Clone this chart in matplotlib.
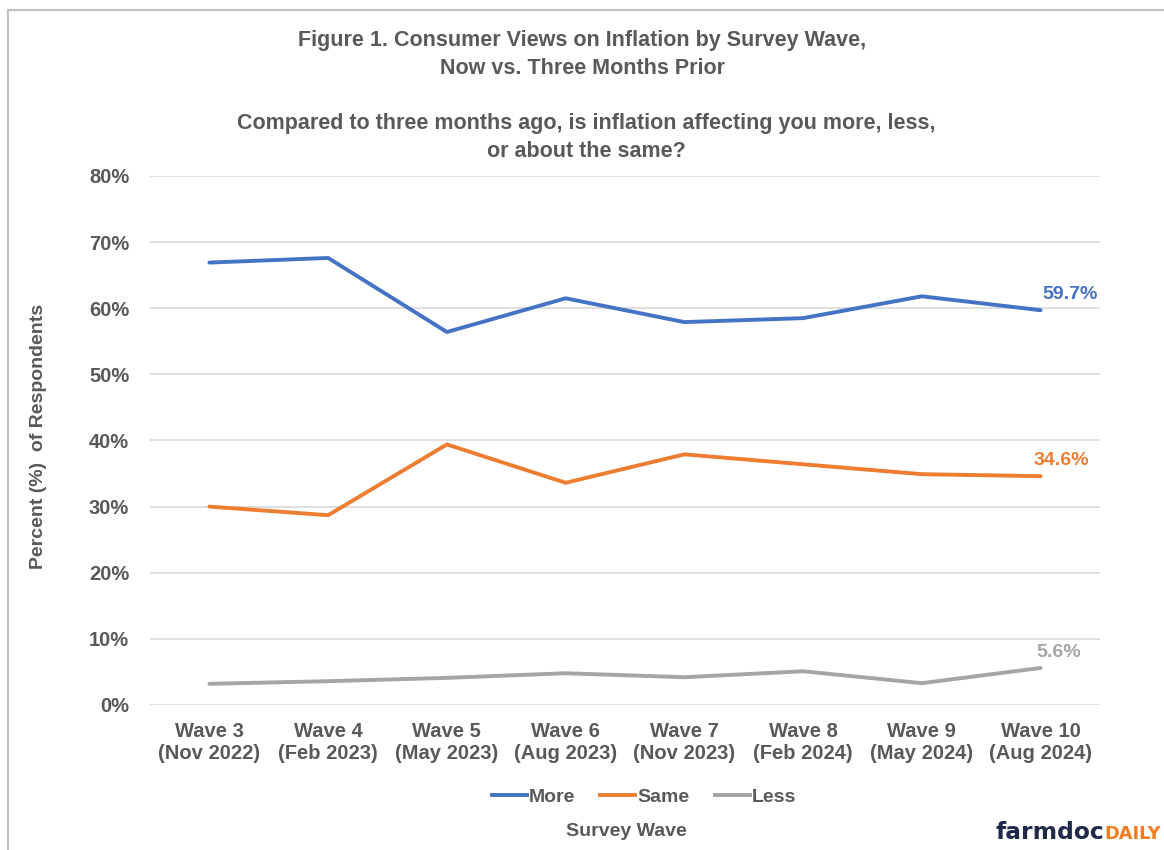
import numpy as np
import matplotlib.pyplot as plt
from matplotlib.lines import Line2D

plt.rcParams['font.family'] = ['Liberation Sans', 'DejaVu Sans']

# data
waves = ["Wave 3\n(Nov 2022)", "Wave 4\n(Feb 2023)", "Wave 5\n(May 2023)", "Wave 6\n(Aug 2023)",
         "Wave 7\n(Nov 2023)", "Wave 8\n(Feb 2024)", "Wave 9\n(May 2024)", "Wave 10\n(Aug 2024)"]
more = [66.9, 67.6, 56.4, 61.5, 57.9, 58.5, 61.8, 59.7]
same = [30.0, 28.7, 39.4, 33.6, 37.9, 36.4, 34.9, 34.6]
less = [3.2, 3.6, 4.1, 4.8, 4.2, 5.1, 3.3, 5.6]

blue = "#4472C4"
orange = "#ED7D31"
grey = "#A5A5A5"
txt = "#595959"

fig = plt.figure(figsize=(11.64, 8.5), dpi=100)
ax = fig.add_axes([0.1289, 0.1706, 0.8161, 0.6224])

x = np.arange(len(waves))
ax.plot(x, more, color=blue, lw=2.8, solid_capstyle="round")
ax.plot(x, same, color=orange, lw=2.8, solid_capstyle="round")
ax.plot(x, less, color=grey, lw=2.8, solid_capstyle="round")

# end labels
ax.annotate(f"{more[-1]:.1f}%", (x[-1], more[-1]), xytext=(1, 5), textcoords="offset points",
            color=blue, fontsize=14, fontweight="bold", ha="left", va="bottom")
ax.annotate(f"{same[-1]:.1f}%", (x[-1], same[-1]), xytext=(-5, 5), textcoords="offset points",
            color=orange, fontsize=14, fontweight="bold", ha="left", va="bottom")
ax.annotate(f"{less[-1]:.1f}%", (x[-1], less[-1]), xytext=(-3, 5), textcoords="offset points",
            color=grey, fontsize=14, fontweight="bold", ha="left", va="bottom")

ax.set_xlim(-0.5, 7.5)
ax.set_ylim(0, 80)
ax.set_yticks(range(0, 81, 10))
ax.set_yticklabels([f"{v}%" for v in range(0, 81, 10)])
ax.set_xticks(x)
ax.set_xticklabels(waves, linespacing=1.2)
ax.grid(axis="y", color="#D9D9D9", lw=1.2)
ax.set_axisbelow(True)
for s in ax.spines.values():
    s.set_visible(False)
ax.tick_params(length=0, colors=txt, labelsize=14.5)
ax.tick_params(axis="y", pad=15)
ax.tick_params(axis="x", pad=12)
for lab in ax.get_xticklabels() + ax.get_yticklabels():
    lab.set_fontweight("bold")

fig.text(0.033, 0.486, "Percent (%)  of Respondents", rotation=90, ha="center", va="center",
         fontsize=14, fontweight="bold", color=txt)

fig.text(0.5, 0.965, "Figure 1. Consumer Views on Inflation by Survey Wave,\nNow vs. Three Months Prior",
         ha="center", va="top", fontsize=15.5, fontweight="bold", color=txt, linespacing=1.45)
fig.text(0.504, 0.867, "Compared to three months ago, is inflation affecting you more, less,\nor about the same?",
         ha="center", va="top", fontsize=15.5, fontweight="bold", color=txt, linespacing=1.45)

handles = [Line2D([], [], color=blue, lw=2.8), Line2D([], [], color=orange, lw=2.8),
           Line2D([], [], color=grey, lw=2.8)]
leg = fig.legend(handles, ["More", "Same", "Less"], loc="center", bbox_to_anchor=(0.553, 0.062),
                 ncol=3, frameon=False, fontsize=14, handlelength=1.8, handletextpad=0.1,
                 columnspacing=1.3)
for t in leg.get_texts():
    t.set_color(txt)
    t.set_fontweight("bold")

fig.text(0.538, 0.022, "Survey Wave", ha="center", va="center", fontsize=14,
         fontweight="bold", color=txt)

# logo
fig.text(0.855, 0.021, "farmdoc", ha="left", va="center", fontsize=16.8, fontweight="bold",
         color="#1F2A4A", family=["DejaVu Sans"])
fig.text(0.9485, 0.019, "DAILY", ha="left", va="center", fontsize=12.8, fontweight="bold",
         color="#F47B20", family=["DejaVu Sans"])

# border on left and top
fig.add_artist(Line2D([0.0069, 0.0069], [0, 0.988], color="#C0C0C0", lw=1.5))
fig.add_artist(Line2D([0.0069, 1], [0.988, 0.988], color="#C0C0C0", lw=1.5))

fig.savefig("out.png", dpi=100, facecolor="white")
